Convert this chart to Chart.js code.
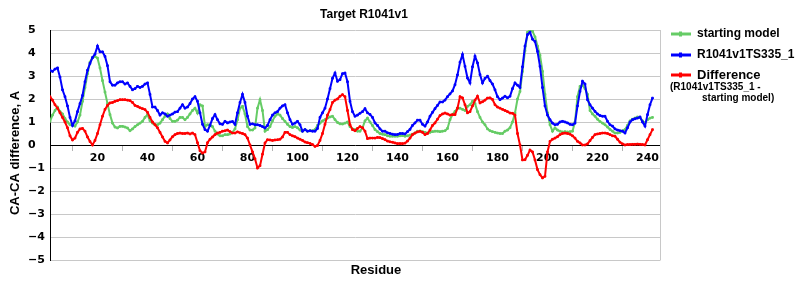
<!DOCTYPE html>
<html>
<head>
<meta charset="utf-8">
<script src="https://cdn.jsdelivr.net/npm/chart.js@4.4.1/dist/chart.umd.min.js"></script>
<style>
  html, body { margin: 0; padding: 0; background: #fff; }
  #wrap { width: 800px; height: 300px; }
</style>
</head>
<body>
<div id="wrap"><canvas id="chart" width="800" height="300"></canvas></div>
<script>
const chartTitle = "Target R1041v1";
const yTitle = "CA-CA difference, A";
const xTitle = "Residue";
const firstResidue = 1;
const xTicks = [10, 20, 30, 40, 50, 60, 70, 80, 90, 100, 110, 120,
  130, 140, 150, 160, 170, 180, 190, 200, 210, 220, 230, 240];
const seriesNames = ["starting model", "R1041v1TS335_1", "Difference"];
const diffNote = ["(R1041v1TS335_1 -", "starting model)"];

// starting model CA-CA distances per residue
const startingModel = [
  1.03, 1.3, 1.5, 1.65, 1.46, 1.35, 1.15, 1.0, 0.88, 0.88,
  0.82, 1.0, 1.3, 1.9, 2.5, 3.1, 3.6, 3.8, 3.85, 3.78,
  3.35, 2.8, 2.3, 1.8, 1.32, 0.95, 0.78, 0.74, 0.81, 0.81,
  0.78, 0.74, 0.62, 0.7, 0.8, 0.88, 0.95, 1.03, 1.2, 1.32,
  1.05, 0.95, 0.88, 0.88, 0.95, 1.1, 1.25, 1.35, 1.15, 1.03,
  1.03, 1.08, 1.2, 1.2, 1.1, 1.2, 1.35, 1.5, 1.6, 1.39,
  1.75, 1.7, 0.8, 0.88, 0.88, 0.8, 0.6, 0.48, 0.4, 0.4,
  0.45, 0.45, 0.48, 0.55, 0.7, 1.1, 1.6, 1.68, 1.35, 0.8,
  0.65, 0.65, 0.74, 1.6, 1.97, 1.5, 0.6, 0.67, 0.8, 1.05,
  1.25, 1.35, 1.3, 1.15, 1.03, 0.9, 0.8, 0.76, 0.8, 0.75,
  0.65, 0.6, 0.67, 0.6, 0.62, 0.62, 0.67, 0.85, 0.95, 1.05,
  1.1, 1.17, 1.22, 1.25, 1.1, 0.98, 0.92, 0.91, 0.95, 1.0,
  0.8, 0.7, 0.67, 0.6, 0.6, 0.75, 1.05, 1.17, 1.0, 0.85,
  0.67, 0.58, 0.5, 0.47, 0.45, 0.4, 0.38, 0.38, 0.38, 0.38,
  0.4, 0.41, 0.38, 0.4, 0.43, 0.47, 0.52, 0.6, 0.6, 0.58,
  0.55, 0.52, 0.55, 0.58, 0.6, 0.6, 0.58, 0.6, 0.62, 0.72,
  1.1, 1.32, 1.46, 1.6, 1.6, 1.55, 1.5, 1.68, 1.75, 1.9,
  1.8, 1.45, 1.2, 1.0, 0.88, 0.7, 0.62, 0.58, 0.55, 0.52,
  0.5, 0.5, 0.6, 0.65, 0.75, 1.0, 1.39, 2.0, 2.33, 3.2,
  4.1, 4.9, 5.0, 4.95, 4.7, 4.3, 3.9, 3.2, 2.2, 1.4,
  0.88, 0.6, 0.74, 0.65, 0.6, 0.57, 0.58, 0.57, 0.58, 0.6,
  1.0, 2.1, 2.55, 2.6, 2.45, 2.2, 1.5, 1.35, 1.25, 1.12,
  1.02, 0.95, 0.88, 0.78, 0.68, 0.6, 0.52, 0.52, 0.55, 0.62,
  0.67, 0.85, 1.05, 1.12, 1.17, 1.22, 1.2, 1.05, 0.96, 1.1,
  1.17, 1.2
];

// R1041v1TS335_1 model
const modelTS335 = [
  3.25, 3.2, 3.3, 3.35, 2.95, 2.4, 2.1, 1.7, 1.2, 0.85,
  1.05, 1.45, 1.8, 2.15, 2.75, 3.25, 3.55, 3.8, 3.95, 4.3,
  4.05, 4.05, 3.85, 3.45, 2.75, 2.6, 2.6, 2.7, 2.75, 2.75,
  2.65, 2.7, 2.55, 2.4, 2.45, 2.55, 2.5, 2.55, 2.65, 2.7,
  2.2, 1.65, 1.65, 1.5, 1.3, 1.4, 1.35, 1.25, 1.3, 1.35,
  1.43, 1.45, 1.6, 1.75, 1.6, 1.65, 1.8, 2.0, 2.1, 1.9,
  1.4, 0.9, 0.67, 0.6, 0.85, 1.15, 1.32, 1.1, 0.92, 0.9,
  1.03, 0.96, 1.0, 1.02, 0.9, 1.4, 1.85, 2.2, 1.85, 1.25,
  0.9, 0.92, 0.88, 0.88, 0.85, 0.8, 0.74, 0.85, 1.1, 1.3,
  1.4, 1.45, 1.6, 1.7, 1.75, 1.4, 1.1, 0.9, 0.95, 1.03,
  0.88, 0.6, 0.67, 0.6, 0.62, 0.6, 0.6, 0.72, 1.2, 1.4,
  1.6, 2.0, 2.45, 2.9, 3.13, 2.77, 2.84, 3.1, 3.13, 2.75,
  1.9, 1.45, 1.25, 1.3, 1.38, 1.45, 1.58, 1.4, 1.33, 1.2,
  0.96, 0.85, 0.7, 0.6, 0.6, 0.53, 0.5, 0.47, 0.45, 0.46,
  0.5, 0.5, 0.48, 0.58, 0.68, 0.85, 0.96, 1.08, 1.08, 0.9,
  0.82, 1.0, 1.25, 1.42, 1.58, 1.72, 1.87, 1.87, 1.95, 2.1,
  2.22, 2.35, 2.62, 3.05, 3.6, 3.93, 3.42, 2.91, 2.7, 3.4,
  3.86, 3.57, 3.06, 2.7, 2.9, 2.99, 2.8, 2.65, 2.4, 2.1,
  1.97, 2.04, 2.12, 2.05, 2.12, 2.45, 2.7, 2.6, 2.5, 3.4,
  4.3, 4.8, 4.9, 4.6, 4.5, 4.07, 3.42, 2.5, 1.7, 1.3,
  1.1, 0.95, 0.88, 0.9, 1.0, 1.03, 1.0, 0.96, 0.9, 0.88,
  0.95, 1.7, 2.33, 2.77, 2.65, 1.97, 1.75, 1.6, 1.46, 1.35,
  1.28, 1.25, 1.25, 1.03, 0.88, 0.82, 0.7, 0.65, 0.62, 0.6,
  0.52, 0.75, 1.0, 1.1, 1.14, 1.17, 1.22, 1.0, 0.82, 1.32,
  1.75, 2.04
];

// difference curve as plotted
const difference = [
  2.1, 1.95, 1.75, 1.6, 1.4, 1.2, 1.0, 0.75, 0.4, 0.22,
  0.3, 0.55, 0.7, 0.72, 0.6, 0.35, 0.15, 0.0, 0.2, 0.5,
  0.88, 1.25, 1.55, 1.72, 1.83, 1.85, 1.9, 1.93, 1.97, 1.97,
  1.97, 1.95, 1.93, 1.85, 1.72, 1.68, 1.62, 1.58, 1.54, 1.42,
  1.2, 1.0, 0.88, 0.75, 0.55, 0.35, 0.16, 0.09, 0.22, 0.36,
  0.45, 0.5, 0.52, 0.5, 0.5, 0.52, 0.48, 0.52, 0.45, 0.1,
  -0.25, -0.35, -0.3, 0.1, 0.25, 0.35, 0.45, 0.52, 0.55, 0.6,
  0.62, 0.65, 0.58, 0.52, 0.52, 0.57, 0.53, 0.5, 0.45, 0.3,
  0.0, -0.3, -0.6, -1.0, -0.9, -0.4, 0.09, 0.23, 0.22, 0.2,
  0.22, 0.23, 0.25, 0.35, 0.55, 0.55, 0.45, 0.4, 0.36, 0.3,
  0.25, 0.2, 0.13, 0.1, 0.07, 0.02, -0.06, -0.02, 0.2, 0.5,
  0.9, 1.3, 1.54, 1.85, 1.95, 2.0, 2.12, 2.19, 2.1, 1.5,
  0.88, 0.67, 0.62, 0.72, 0.8, 0.75, 0.6, 0.28, 0.3, 0.3,
  0.3, 0.33, 0.32, 0.28, 0.23, 0.17, 0.14, 0.12, 0.09, 0.06,
  0.06, 0.06, 0.08, 0.17, 0.3, 0.45, 0.52, 0.57, 0.6, 0.55,
  0.45, 0.5, 0.65, 0.85, 0.96, 1.12, 1.28, 1.35, 1.39, 1.35,
  1.3, 1.32, 1.32, 1.6, 2.1, 2.05, 1.75, 1.4, 1.45, 1.7,
  1.95, 2.12, 1.83, 1.88, 1.95, 2.04, 2.05, 1.98, 1.75, 1.65,
  1.6, 1.55, 1.5, 1.45, 1.39, 1.38, 1.3, 0.5, 0.0, -0.65,
  -0.64, -0.45, -0.22, -0.3, -0.65, -1.07, -1.29, -1.43, -1.36, -0.3,
  0.16, 0.25, 0.3, 0.36, 0.45, 0.5, 0.52, 0.5, 0.47, 0.4,
  0.3, 0.16, 0.09, 0.0, 0.0, 0.05, 0.19, 0.33, 0.45, 0.48,
  0.5, 0.52, 0.52, 0.5, 0.45, 0.4, 0.38, 0.25, 0.12, 0.05,
  0.0, 0.02, 0.02, 0.03, 0.03, 0.04, 0.03, 0.02, 0.0, 0.23,
  0.45, 0.67
];

const colors = ["#66cc66", "#0000ff", "#ff0000"];
const ARIAL = '"Liberation Sans", Arial, sans-serif';
const TICKFONT = '"DejaVu Sans", Verdana, sans-serif';

function toPoints(values) {
  return values.map((v, i) => ({ x: firstResidue + i, y: v }));
}

function makeDataset(label, values, color, order) {
  return {
    label: label,
    data: toPoints(values),
    borderColor: color,
    backgroundColor: color,
    borderWidth: 2,
    pointRadius: 1.2,
    pointStyle: "rect",
    pointBorderWidth: 1,
    pointBorderColor: color,
    pointBackgroundColor: color,
    tension: 0,
    fill: false,
    order: order,
  };
}

const chartText = {
  id: "chartText",
  beforeDatasetsDraw(chart) {
    const { ctx, chartArea } = chart;
    ctx.save();
    ctx.strokeStyle = "#c8c8c8";
    ctx.lineWidth = 1;
    ctx.beginPath();
    ctx.moveTo(Math.round(chartArea.right) + 0.5, chartArea.top);
    ctx.lineTo(Math.round(chartArea.right) + 0.5, chartArea.bottom + 0.5);
    ctx.stroke();
    ctx.restore();
  },
  afterDraw(chart) {
    const { ctx } = chart;
    ctx.save();
    ctx.fillStyle = "#000";
    ctx.textBaseline = "middle";

    // title
    ctx.textAlign = "center";
    ctx.font = "bold 12px " + ARIAL;
    ctx.fillText(chartTitle, 364, 15);

    // x axis title
    ctx.font = "bold 13px " + ARIAL;
    ctx.fillText(xTitle, 376, 270);

    // y axis title
    ctx.save();
    ctx.translate(15, 153);
    ctx.rotate(-Math.PI / 2);
    ctx.fillText(yTitle, 0, 0);
    ctx.restore();

    // legend
    const rows = [34, 55, 75];
    const fonts = ["bold 12px " + ARIAL, "bold 12px " + ARIAL, "bold 13px " + ARIAL];
    rows.forEach((y, i) => {
      ctx.strokeStyle = colors[i];
      ctx.lineWidth = 3;
      ctx.beginPath();
      ctx.moveTo(671, y);
      ctx.lineTo(691, y);
      ctx.stroke();
      ctx.fillStyle = colors[i];
      ctx.fillRect(679, y - 2.5, 3, 5);
      ctx.fillStyle = "#000";
      ctx.textAlign = "left";
      ctx.font = fonts[i];
      ctx.fillText(seriesNames[i], 697, y);
    });
    ctx.font = "bold 10px " + ARIAL;
    ctx.fillText(diffNote[0], 670, 87);
    ctx.fillText(diffNote[1], 702, 98);
    ctx.restore();
  },
};

new Chart(document.getElementById("chart").getContext("2d"), {
  type: "line",
  data: {
    datasets: [
      makeDataset(seriesNames[0], startingModel, colors[0], 2),
      makeDataset(seriesNames[1], modelTS335, colors[1], 1),
      makeDataset(seriesNames[2], difference, colors[2], 0),
    ],
  },
  options: {
    responsive: false,
    animation: false,
    events: [],
    layout: {
      padding: { left: 28, right: 140, top: 30, bottom: 40 },
    },
    scales: {
      x: {
        type: "linear",
        position: { y: 0 },
        min: 1,
        max: 245,
        afterBuildTicks: (scale) => {
          scale.ticks = xTicks.map((v) => ({ value: v }));
        },
        grid: {
          display: true,
          drawOnChartArea: false,
          drawTicks: true,
          tickLength: 5,
          tickColor: (ctx) =>
            ctx.tick && ctx.tick.value % 20 === 0 ? "rgba(0,0,0,0)" : "#b4b4b4",
        },
        border: { display: true, color: "#000", width: 1 },
        ticks: {
          autoSkip: false,
          maxRotation: 0,
          padding: 2,
          color: "#000",
          font: { family: TICKFONT, size: 11, weight: "bold" },
          callback: (v) => (v % 20 === 0 ? String(v) : ""),
        },
      },
      y: {
        type: "linear",
        position: "left",
        min: -5,
        max: 5,
        afterFit: (scale) => {
          scale.width = 22;
        },
        grid: {
          drawTicks: false,
          color: (ctx) =>
            ctx.tick && ctx.tick.value === 0 ? "rgba(0,0,0,0)" : "#c8c8c8",
        },
        border: { display: true, color: "#000", width: 1 },
        ticks: {
          stepSize: 1,
          crossAlign: "far",
          padding: 0,
          color: "#000",
          font: { family: TICKFONT, size: 11, weight: "bold" },
          callback: (v) => (v < 0 ? "\u2212" + Math.abs(v) : String(v)),
        },
      },
    },
    plugins: {
      legend: { display: false },
      tooltip: { enabled: false },
      title: { display: false },
    },
  },
  plugins: [chartText],
});
</script>
</body>
</html>
